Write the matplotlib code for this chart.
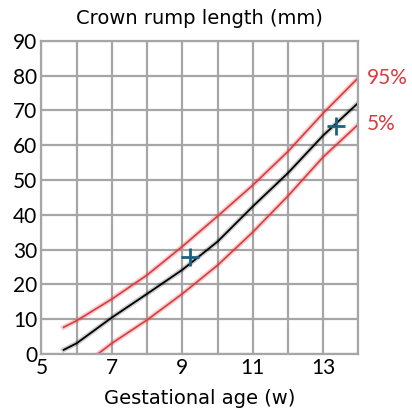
import numpy as np
import matplotlib.pyplot as plt

# gestational age (weeks) and crown rump length (mm)
ga_med = [5.63, 6, 7, 8, 9, 10, 11, 12, 13, 14]
crl_med = [1.2, 3.1, 10.5, 17.3, 24.2, 32.3, 42.4, 52.0, 62.8, 72.2]

ga_p95 = [5.63, 6, 7, 8, 9, 10, 11, 12, 13, 14]
crl_p95 = [7.7, 9.6, 15.8, 22.7, 30.9, 39.6, 48.5, 58.2, 69.2, 79.4]

ga_p5 = [6.6, 7, 8, 9, 10, 11, 12, 13, 14]
crl_p5 = [0.0, 3.1, 9.8, 17.3, 25.5, 35.0, 45.4, 56.6, 66.0]

meas_ga = [9.23, 13.37]
meas_crl = [28.0, 65.5]

xticks = [5, 7, 9, 11, 13]
yticks = list(range(0, 91, 10))

red = "#dc3a3e"
font = "Lato"

fig = plt.figure(figsize=(4.12, 4.17), dpi=100)
ax = fig.add_axes([0.1007, 0.151, 0.769, 0.751])

# soft halo under the curves
ax.plot(ga_p95, crl_p95, color=red, lw=3.5, alpha=0.25)
ax.plot(ga_p5, crl_p5, color=red, lw=3.5, alpha=0.25)
ax.plot(ga_med, crl_med, color="black", lw=3.5, alpha=0.2)
ax.plot(ga_p95, crl_p95, color=red, lw=1.2)
ax.plot(ga_p5, crl_p5, color=red, lw=1.2)
ax.plot(ga_med, crl_med, color="black", lw=1.3)

ax.plot(meas_ga, meas_crl, linestyle="none", marker="+", markersize=13,
        mew=2, color="#1b6280")

ax.set_xlim(5, 14)
ax.set_ylim(0, 90)
ax.set_xticks(np.arange(5, 15, 1), minor=True)
ax.set_xticks(xticks)
ax.set_yticks(yticks)
ax.set_xticklabels([str(t) for t in xticks], fontsize=15, family=font)
ax.set_yticklabels([str(t) for t in yticks], fontsize=15, family=font)
ax.tick_params(which="both", length=0, pad=3)
ax.grid(True, which="both", color="#a6a6a6", lw=1.6)
for s in ax.spines.values():
    s.set_color("#a6a6a6")
    s.set_linewidth(1.6)

ax.text(14.25, 79.4, "95%", color=red, fontsize=15, family=font, va="center")
ax.text(14.25, 66.2, "5%", color=red, fontsize=15, family=font, va="center")

fig.text(0.485, 0.956, "Crown rump length (mm)", ha="center", va="center",
         fontsize=14, family="DejaVu Sans")
fig.text(0.485, 0.045, "Gestational age (w)", ha="center", va="center",
         fontsize=14, family="DejaVu Sans")

fig.savefig("out.png", dpi=100)
